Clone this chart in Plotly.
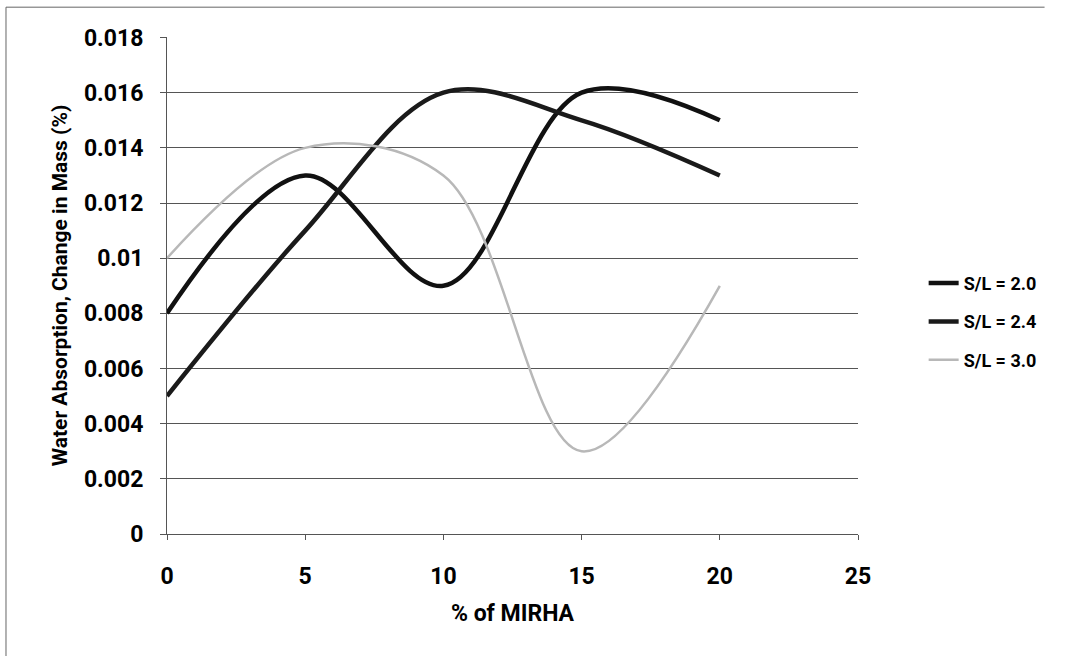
import plotly.graph_objects as go

x_vals = [0, 5, 10, 15, 20]
sl_20 = [0.008, 0.013, 0.009, 0.016, 0.015]
sl_24 = [0.005, 0.011, 0.016, 0.015, 0.013]
sl_30 = [0.010, 0.014, 0.013, 0.003, 0.009]
series_names = ["S/L = 2.0", "S/L = 2.4", "S/L = 3.0"]
y_ticks = [0, 0.002, 0.004, 0.006, 0.008, 0.01, 0.012, 0.014, 0.016, 0.018]
y_tick_labels = ["0", "0.002", "0.004", "0.006", "0.008", "0.01", "0.012", "0.014", "0.016", "0.018"]
x_ticks = [0, 5, 10, 15, 20, 25]

FONT = "Roboto"

fig = go.Figure()
styles = [("#111111", 4.5), ("#1a1a1a", 4.5), ("#b8b8b8", 2.5)]
for i, (name, ys, (col, w)) in enumerate(zip(series_names, [sl_20, sl_24, sl_30], styles)):
    fig.add_trace(go.Scatter(
        x=x_vals, y=ys, name=name, mode="lines", legendgroup=f"g{i}",
        line=dict(color=col, width=w, shape="spline", smoothing=1.0),
    ))

fig.update_layout(
    width=1086, height=656,
    margin=dict(l=167, r=228, t=37, b=122),
    paper_bgcolor="white", plot_bgcolor="white",
    font=dict(family=FONT, color="black", size=18),
    showlegend=True,
    legend=dict(x=1.095, y=0.427, yanchor="middle", xanchor="left",
                font=dict(family=FONT, size=18, color="black", weight="bold"),
                tracegroupgap=12, bgcolor="rgba(0,0,0,0)"),
    shapes=[
        dict(type="line", xref="paper", yref="paper",
             x0=-0.233, x1=1.27, y0=1.06, y1=1.06,
             line=dict(color="#666666", width=1)),
        dict(type="line", xref="paper", yref="paper",
             x0=-0.233, x1=-0.233, y0=1.06, y1=-0.26,
             line=dict(color="#666666", width=1)),
    ],
)
fig.update_xaxes(
    range=[0, 25], tickvals=x_ticks, ticks="outside", ticklen=5, tickcolor="#555",
    showline=True, linecolor="#555", linewidth=1, showgrid=False, zeroline=False,
    ticklabelstandoff=16,
    tickfont=dict(family=FONT, size=23, color="black", weight="bold"),
    title=dict(text="% of MIRHA", font=dict(family=FONT, size=23, weight="bold"), standoff=16),
)
fig.update_yaxes(
    range=[0, 0.01802], tickvals=y_ticks, ticktext=y_tick_labels,
    ticks="outside", ticklen=6, tickcolor="#555",
    showline=True, linecolor="#555", linewidth=1,
    showgrid=True, gridcolor="#555555", gridwidth=1, zeroline=False,
    ticklabelstandoff=12,
    tickfont=dict(family=FONT, size=23, color="black", weight="bold"),
    title=dict(text="Water Absorption, Change in Mass (%)", font=dict(family=FONT, size=21, weight="bold"), standoff=10),
)

fig.write_html("out.html")
